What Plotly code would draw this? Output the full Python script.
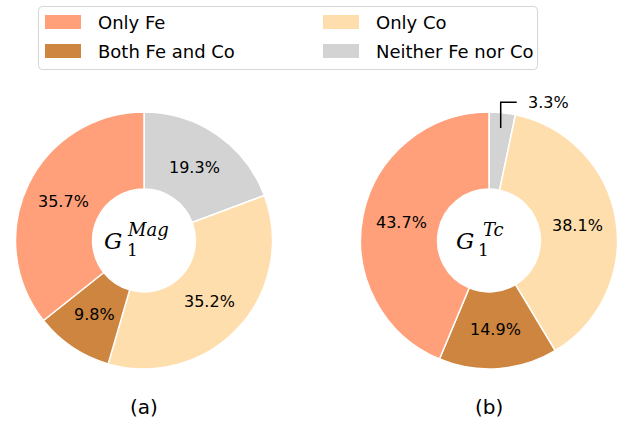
import math
import plotly.graph_objects as go

# Share of features in each selected group, by element they relate to
categories = ["Only Fe", "Both Fe and Co", "Only Co", "Neither Fe nor Co"]
colors = ["#FFA07A", "#CD853F", "#FFDEAD", "#D3D3D3"]
mag_share = [35.7, 9.8, 35.2, 19.3]
tc_share = [43.7, 14.9, 38.1, 3.3]
panel_tags = ["(a)", "(b)"]
center_sup = ["Mag", "Tc"]

W, H = 620, 427
R = 128.5
centers = [(144.0, 240.5), (489.0, 240.5)]
# horizontal offsets (px) of the math label parts: G right edge, superscript left, subscript left
math_offsets = [(-20, -19, -19), (-13, -8, -13)]


def px(x):
    return x / W


def py(y):
    return 1 - y / H


fig = go.Figure()
annotations = []
shapes = []

for k, (shares, (cx, cy)) in enumerate(zip([mag_share, tc_share], centers)):
    # wedges run counterclockwise from 12 o'clock in category order;
    # plotly fills clockwise from 12 o'clock, so feed the categories reversed
    fig.add_trace(go.Pie(
        labels=categories[::-1],
        values=shares[::-1],
        sort=False,
        direction="clockwise",
        rotation=0,
        hole=0.4,
        textinfo="none",
        hoverinfo="label+percent",
        showlegend=False,
        marker=dict(colors=colors[::-1], line=dict(color="white", width=1.5)),
        domain=dict(x=[px(cx - R), px(cx + R)], y=[py(cy + R), py(cy - R)]),
    ))

    # percentage labels placed at the middle of each wedge
    cum = 0.0
    total = sum(shares)
    for v in shares:
        theta = math.radians(90 + 360 * (cum + v / 2) / total)
        cum += v
        label = f"{v:.1f}%"
        if v >= 5:
            lx = cx + 0.695 * R * math.cos(theta)
            ly = cy - 0.695 * R * math.sin(theta)
            annotations.append(dict(
                x=px(lx), y=py(ly), xref="paper", yref="paper", text=label,
                showarrow=False, xanchor="center", yanchor="middle",
                font=dict(family="DejaVu Sans", size=16, color="black"),
            ))
        else:
            # small wedge: label outside with a bent leader line
            x0 = cx + 0.88 * R * math.cos(theta)
            y0 = cy - 0.88 * R * math.sin(theta)
            y1 = cy - 1.075 * R
            x2 = x0 + 16
            shapes.append(dict(
                type="path", xref="paper", yref="paper",
                path=f"M {px(x0)} {py(y0)} L {px(x0)} {py(y1)} L {px(x2)} {py(y1)}",
                line=dict(color="black", width=1.5),
            ))
            annotations.append(dict(
                x=px(x2 + 9), y=py(y1), xref="paper", yref="paper", text=label,
                showarrow=False, xanchor="left", yanchor="middle",
                font=dict(family="DejaVu Sans", size=16, color="black"),
            ))

    # centre label G_1^{...}
    gx, supx, subx = math_offsets[k]
    annotations.append(dict(
        x=px(cx + gx), y=py(cy + 1), xref="paper", yref="paper", text="<i>G</i>",
        showarrow=False, xanchor="right", yanchor="middle",
        font=dict(family="DejaVu Serif", size=23, color="black"),
    ))
    annotations.append(dict(
        x=px(cx + supx), y=py(cy - 11), xref="paper", yref="paper",
        text=f"<i>{center_sup[k]}</i>",
        showarrow=False, xanchor="left", yanchor="middle",
        font=dict(family="DejaVu Serif", size=18, color="black"),
    ))
    annotations.append(dict(
        x=px(cx + subx), y=py(cy + 9), xref="paper", yref="paper", text="1",
        showarrow=False, xanchor="left", yanchor="middle",
        font=dict(family="DejaVu Serif", size=17, color="black"),
    ))

    # panel tag below the donut
    annotations.append(dict(
        x=px(cx), y=py(407), xref="paper", yref="paper", text=panel_tags[k],
        showarrow=False, xanchor="center", yanchor="middle",
        font=dict(family="DejaVu Sans", size=20, color="black"),
    ))

# legend: two columns, filled column by column
lx0, lx1, ly0, ly1, rr = 38.5, 537.5, 6.5, 69.5, 4
shapes.append(dict(
    type="path", xref="paper", yref="paper",
    path=(f"M {px(lx0 + rr)} {py(ly0)} L {px(lx1 - rr)} {py(ly0)} "
          f"Q {px(lx1)} {py(ly0)} {px(lx1)} {py(ly0 + rr)} "
          f"L {px(lx1)} {py(ly1 - rr)} Q {px(lx1)} {py(ly1)} {px(lx1 - rr)} {py(ly1)} "
          f"L {px(lx0 + rr)} {py(ly1)} Q {px(lx0)} {py(ly1)} {px(lx0)} {py(ly1 - rr)} "
          f"L {px(lx0)} {py(ly0 + rr)} Q {px(lx0)} {py(ly0)} {px(lx0 + rr)} {py(ly0)} Z"),
    line=dict(color="#D6D6D6", width=1), fillcolor="rgba(255,255,255,0.8)",
))
col_x = [45, 323]
row_y = [22, 51]
for i, (name, c) in enumerate(zip(categories, colors)):
    sx = col_x[i // 2]
    sy = row_y[i % 2]
    shapes.append(dict(
        type="rect", xref="paper", yref="paper",
        x0=px(sx), x1=px(sx + 36), y0=py(sy + 7), y1=py(sy - 7),
        fillcolor=c, line=dict(width=0),
    ))
    annotations.append(dict(
        x=px(sx + 51), y=py(sy), xref="paper", yref="paper", text=name,
        showarrow=False, xanchor="left", yanchor="middle",
        font=dict(family="DejaVu Sans", size=18, color="black"),
    ))

fig.update_layout(
    width=W, height=H, autosize=False,
    margin=dict(l=0, r=0, t=0, b=0),
    paper_bgcolor="white", plot_bgcolor="white",
    annotations=annotations, shapes=shapes,
)

fig.write_html("out.html")
